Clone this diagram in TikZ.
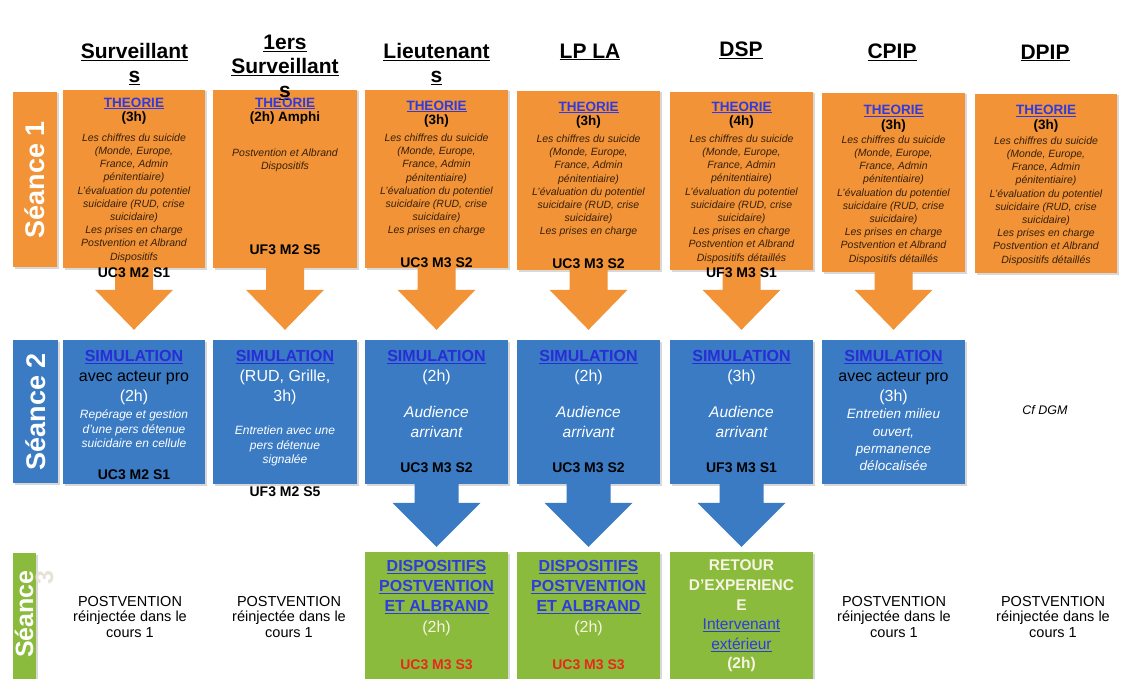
\documentclass[tikz,border=0pt]{standalone}
\usepackage{fontspec}
\setmainfont{Liberation Sans}
\usetikzlibrary{calc,shadows}
\definecolor{ocol}{RGB}{241,147,54}
\definecolor{bcol}{RGB}{58,123,196}
\definecolor{gcol}{RGB}{138,187,60}
\definecolor{lnk}{RGB}{48,58,225}
\definecolor{slnk}{RGB}{40,45,215}
\definecolor{rcol}{RGB}{232,40,30}
\definecolor{obody}{RGB}{55,32,10}
\definecolor{cream}{RGB}{248,244,228}
\newcommand\mkbox[6]{\node[#1,minimum width={#5-#3},minimum height={#6-#4}] (#2) at ({(#3+#5)/2},{(#4+#6)/2}) {};}
\newcommand\blockarrow[7]{%
  \fill[#1] let \p1=(#2), \p2=(#3) in
  (\x1-#4,\y1) -- (\x1-#4,\y2+#6+#7) -- (\x1-#5,\y2+#6+#7) -- (\x1,\y2+#6)
  -- (\x1+#5,\y2+#6+#7) -- (\x1+#4,\y2+#6+#7) -- (\x1+#4,\y1) -- cycle;}
\newcommand\theobody{Les chiffres du suicide\\(Monde, Europe,\\France, Admin\\pénitentiaire)\\L'évaluation du potentiel\\suicidaire (RUD, crise\\suicidaire)\\Les prises en charge}
\newcommand\lk[1]{\textcolor{lnk}{\underline{#1}}}
\newcommand\slk[1]{\textcolor{slnk}{\underline{#1}}}
\begin{document}
\begin{tikzpicture}[x=1pt,y=-1pt,
  shad/.style={drop shadow={opacity=0.3,shadow xshift=1.5pt,shadow yshift=-1.5pt}},
  obox/.style={fill=ocol,shad,inner sep=0,draw=none},
  bbox/.style={fill=bcol,shad,inner sep=0,draw=none},
  gbox/.style={fill=gcol,shad,inner sep=0,draw=none},
  txt/.style={align=center,inner sep=0},
  hdr/.style={txt,font=\fontsize{21}{24}\selectfont\bfseries},
  ottl/.style={txt,font=\fontsize{13.5}{14.5}\selectfont\bfseries},
  obodyst/.style={txt,font=\fontsize{10.5}{13.2}\selectfont\itshape,text=obody},
  code/.style={txt,font=\fontsize{14}{16}\selectfont\bfseries},
  sttl/.style={txt,font=\fontsize{16}{20}\selectfont},
  sit/.style={txt,font=\fontsize{12}{14.5}\selectfont\itshape,text=white},
  aud/.style={txt,font=\fontsize{15.5}{20}\selectfont\itshape,text=white},
  gttl/.style={txt,font=\fontsize{16}{20}\selectfont},
  seance/.style={txt,font=\fontsize{27}{30}\selectfont\bfseries,text=white,rotate=90},
  post/.style={txt,font=\fontsize{14.5}{15.5}\selectfont},
]
\useasboundingbox (0,0) rectangle (1131,679);
\fill[white] (0,0) rectangle (1131,679);

% row labels
\mkbox{obox}{s1}{13}{92}{57}{267}
\mkbox{bbox}{s2}{13}{340}{58}{483}
\mkbox{gbox}{s3}{13}{553}{36}{690}

% orange boxes
\mkbox{obox}{o1}{63}{90}{205}{268}
\mkbox{obox}{o2}{213}{90}{357}{268}
\mkbox{obox}{o3}{365}{90}{508}{268}
\mkbox{obox}{o4}{517}{91}{660}{270}
\mkbox{obox}{o5}{670}{92}{813}{270}
\mkbox{obox}{o6}{822}{93}{965}{272}
\mkbox{obox}{o7}{975}{94}{1117}{273}

% blue boxes
\mkbox{bbox}{b1}{63}{340}{205}{484}
\mkbox{bbox}{b2}{213}{340}{357}{484}
\mkbox{bbox}{b3}{365}{340}{508}{484}
\mkbox{bbox}{b4}{517}{340}{660}{484}
\mkbox{bbox}{b5}{670}{340}{813}{484}
\mkbox{bbox}{b6}{822}{340}{965}{484}

% green boxes
\mkbox{gbox}{g3}{365}{552}{508}{690}
\mkbox{gbox}{g4}{517}{552}{660}{690}
\mkbox{gbox}{g5}{670}{552}{813}{690}

% block arrows
\blockarrow{ocol}{o1.south}{b1.north}{19}{39}{10}{40}
\blockarrow{ocol}{o2.south}{b2.north}{19}{39}{10}{40}
\blockarrow{ocol}{o3.south}{b3.north}{19}{39}{10}{40}
\blockarrow{ocol}{o4.south}{b4.north}{19}{39}{10}{40}
\blockarrow{ocol}{o5.south}{b5.north}{19}{39}{10}{40}
\blockarrow{ocol}{o6.south}{b6.north}{19}{39}{10}{40}
\blockarrow{bcol}{b3.south}{g3.north}{22}{44}{5}{44}
\blockarrow{bcol}{b4.south}{g4.north}{22}{44}{5}{44}
\blockarrow{bcol}{b5.south}{g5.north}{22}{44}{5}{44}

% row label texts
\node[seance] (s1t) at (s1) {Séance 1};
\node[seance] (s2t) at (s2) {Séance 2};
\node[seance,font=\fontsize{25}{20}\selectfont\bfseries,align=right] (s3t) at (34,614) {Séance\\\textcolor{cream!85!gray}{3}};

% headers
\node[hdr] (h1) at (134.5,64) {\underline{Surveillant}\\\underline{s}};
\node[hdr] (h2) at (285,67) {\underline{1ers}\\\underline{Surveillant}\\\underline{s}};
\node[hdr] (h3) at (436.5,64) {\underline{Lieutenant}\\\underline{s}};
\node[hdr] (h4) at (590,52) {\underline{LP LA}};
\node[hdr] (h5) at (741,50) {\underline{DSP}};
\node[hdr] (h6) at (892,52) {\underline{CPIP}};
\node[hdr] (h7) at (1045,53) {\underline{DPIP}};

% orange contents
\node[ottl] (o1a) at (134,111) {\lk{THEORIE}\\(3h)};
\node[obodyst] (o1b) at (134,198) {\theobody\\Postvention et Albrand\\Dispositifs};
\node[code] (o1c) at (134,273) {UC3 M2 S1};

\node[ottl] (o2a) at (285,111) {\lk{THEORIE}\\(2h) Amphi};
\node[obodyst] (o2b) at (285,160) {Postvention et Albrand\\Dispositifs};
\node[code] (o2c) at (285,250) {UF3 M2 S5};

\node[ottl] (o3a) at (436.5,114) {\lk{THEORIE}\\(3h)};
\node[obodyst] (o3b) at (436.5,185) {\theobody};
\node[code] (o3c) at (436.5,263) {UC3 M3 S2};

\node[ottl] (o4a) at (588.5,115) {\lk{THEORIE}\\(3h)};
\node[obodyst] (o4b) at (588.5,186) {\theobody};
\node[code] (o4c) at (588.5,264) {UC3 M3 S2};

\node[ottl] (o5a) at (741.5,115) {\lk{THEORIE}\\(4h)};
\node[obodyst] (o5b) at (741.5,199) {\theobody\\Postvention et Albrand\\Dispositifs détaillés};
\node[code] (o5c) at (741.5,273) {UF3 M3 S1};

\node[ottl] (o6a) at (893.5,118.5) {\lk{THEORIE}\\(3h)};
\node[obodyst] (o6b) at (893.5,200) {\theobody\\Postvention et Albrand\\Dispositifs détaillés};

\node[ottl] (o7a) at (1046,118.5) {\lk{THEORIE}\\(3h)};
\node[obodyst] (o7b) at (1046,201) {\theobody\\Postvention et Albrand\\Dispositifs détaillés};

% blue contents
\node[sttl] (b1a) at (134,378) {\textbf{\slk{SIMULATION}}\\avec acteur pro\\\textcolor{white}{(2h)}};
\node[sit] (b1b) at (134,429) {Repérage et gestion\\d'une pers détenue\\suicidaire en cellule};
\node[code] (b1c) at (134,475) {UC3 M2 S1};

\node[sttl,text=white] (b2a) at (285,378) {\textbf{\slk{SIMULATION}}\\(RUD, Grille,\\3h)};
\node[sit] (b2b) at (285,446) {Entretien avec une\\pers détenue\\signalée};
\node[code] (b2c) at (285,492) {UF3 M2 S5};

\node[sttl,text=white] (b3a) at (436.5,367.5) {\textbf{\slk{SIMULATION}}\\(2h)};
\node[aud] (b3b) at (436.5,422) {Audience\\arrivant};
\node[code] (b3c) at (436.5,468) {UC3 M3 S2};

\node[sttl,text=white] (b4a) at (588.5,367.5) {\textbf{\slk{SIMULATION}}\\(2h)};
\node[aud] (b4b) at (588.5,422) {Audience\\arrivant};
\node[code] (b4c) at (588.5,468) {UC3 M3 S2};

\node[sttl,text=white] (b5a) at (741.5,367.5) {\textbf{\slk{SIMULATION}}\\(3h)};
\node[aud] (b5b) at (741.5,422) {Audience\\arrivant};
\node[code] (b5c) at (741.5,468) {UF3 M3 S1};

\node[sttl] (b6a) at (893.5,378) {\textbf{\slk{SIMULATION}}\\avec acteur pro\\\textcolor{white}{(3h)}};
\node[sit,font=\fontsize{13.5}{17.3}\selectfont\itshape] (b6b) at (893.5,440) {Entretien milieu\\ouvert,\\permanence\\délocalisée};

\node[txt,font=\fontsize{12.5}{14}\selectfont\itshape] (cf) at (1045,410) {Cf DGM};

% green contents
\node[gttl] (g3a) at (436.5,587) {\textbf{\lk{DISPOSITIFS}}\\\textbf{\lk{POSTVENTION}}\\\textbf{\lk{ET ALBRAND}}};
\node[gttl,text=cream] (g3b) at (436.5,628) {(2h)};
\node[code,text=rcol] (g3c) at (436.5,665) {UC3 M3 S3};

\node[gttl] (g4a) at (588.5,587) {\textbf{\lk{DISPOSITIFS}}\\\textbf{\lk{POSTVENTION}}\\\textbf{\lk{ET ALBRAND}}};
\node[gttl,text=cream] (g4b) at (588.5,628) {(2h)};
\node[code,text=rcol] (g4c) at (588.5,665) {UC3 M3 S3};

\node[txt,font=\fontsize{15.5}{19.6}\selectfont,text=cream] (g5a) at (741.5,616) {\textbf{RETOUR}\\\textbf{D'EXPERIENC}\\\textbf{E}\\\lk{Intervenant}\\\lk{extérieur}\\\textbf{(2h)}};

% row 3 plain texts
\node[post] (p1) at (130,617) {POSTVENTION\\réinjectée dans le\\cours 1};
\node[post] (p2) at (289,617) {POSTVENTION\\réinjectée dans le\\cours 1};
\node[post] (p6) at (894,617) {POSTVENTION\\réinjectée dans le\\cours 1};
\node[post] (p7) at (1053,617) {POSTVENTION\\réinjectée dans le\\cours 1};
\end{tikzpicture}
\end{document}
